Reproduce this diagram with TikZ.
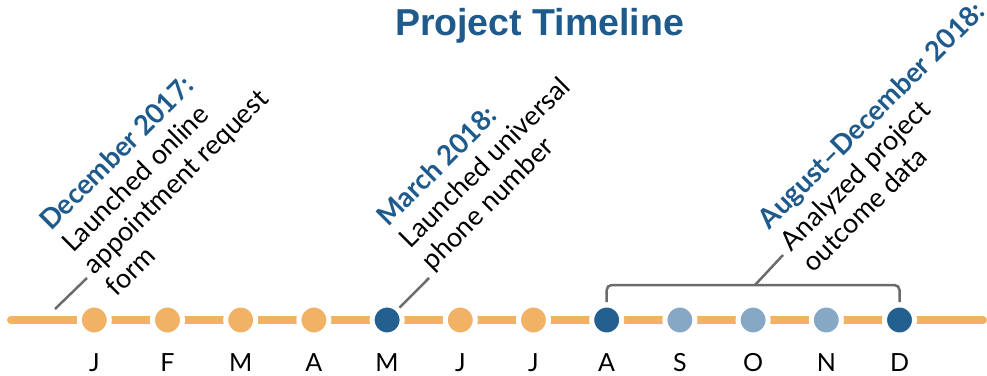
\documentclass[tikz,border=0pt]{standalone}
\usepackage{fontspec}
\setmainfont{Lato}
\newfontfamily\titlefont{Liberation Sans}
\definecolor{orng}{HTML}{F2B266}
\definecolor{dblue}{HTML}{23608F}
\definecolor{lblue}{HTML}{86A8C5}
\definecolor{tblue}{HTML}{1F5A8C}
\definecolor{lgray}{HTML}{6B6B6B}
\begin{document}
\begin{tikzpicture}[x=1pt,y=1pt,
  tl/.style={orng, line width=8pt, line cap=round},
  dot/.style={circle, minimum size=30pt, inner sep=0pt, draw=white, line width=5pt},
  month/.style={anchor=base, font=\fontsize{25}{30}\selectfont, inner sep=0pt},
  lead/.style={lgray, line width=2.5pt},
  brk/.style={lgray, line width=2.5pt, rounded corners=5pt},
  hd/.style={anchor=base west, rotate=45, inner sep=0pt, font=\fontsize{27.5}{32}\selectfont\bfseries, text=tblue},
  bd/.style={anchor=base west, rotate=45, inner sep=0pt, font=\fontsize{27}{32}\selectfont, text=black}]
\useasboundingbox (0,0) rectangle (987,375);

% title
\node[anchor=base, inner sep=0pt, text=tblue, font=\titlefont\bfseries\fontsize{37.5}{40}\selectfont] (title) at (539.5,339) {Project Timeline};

% timeline
\coordinate (lstart) at (11,55);
\coordinate (lend) at (983,55);
\draw[tl] (lstart) -- (lend);

\foreach \i/\l/\c in {1/J/orng,2/F/orng,3/M/orng,4/A/orng,5/M/dblue,6/J/orng,7/J/orng,8/A/dblue,9/S/lblue,10/O/lblue,11/N/lblue,12/D/dblue}{
  \node[dot, fill=\c] (m\i) at ({94.3+73.2*(\i-1)},55) {};
  \node[month] (t\i) at ({94.3+73.2*(\i-1)},4) {\l};
}

% leader coordinates
\coordinate (L1) at (55,66);
\coordinate (E1) at (87,97);
\coordinate (E2) at (429,97);
\coordinate (E3) at (783,120);
\coordinate (L3) at (755,90);

\draw[lead] (L1) -- (E1);
\draw[lead] (m5.45) coordinate (L2) -- (E2);
\draw[brk] ([yshift=18pt]m8.center) |- (L3) -| ([yshift=18pt]m12.center);
\draw[lead] (L3) -- (E3);

% annotations
\begin{scope}[shift={(E1)}, rotate=45]
  \node[hd] (a1) at (7,58) {December 2017:};
  \node[bd] (a2) at (7,27) {Launched online};
  \node[bd] (a3) at (7,-4) {appointment request};
  \node[bd] (a4) at (7,-35) {form};
\end{scope}
\begin{scope}[shift={(E2)}, rotate=45]
  \node[hd] (b1) at (7,64) {March 2018:};
  \node[bd] (b2) at (7,33) {Launched universal};
  \node[bd] (b3) at (7,2) {phone number};
\end{scope}
\begin{scope}[shift={(E3)}, rotate=45]
  \node[hd] (c1) at (8,27) {August–December 2018:};
  \node[bd] (c2) at (8,-4) {Analyzed project};
  \node[bd] (c3) at (8,-35) {outcome data};
\end{scope}
\end{tikzpicture}
\end{document}
